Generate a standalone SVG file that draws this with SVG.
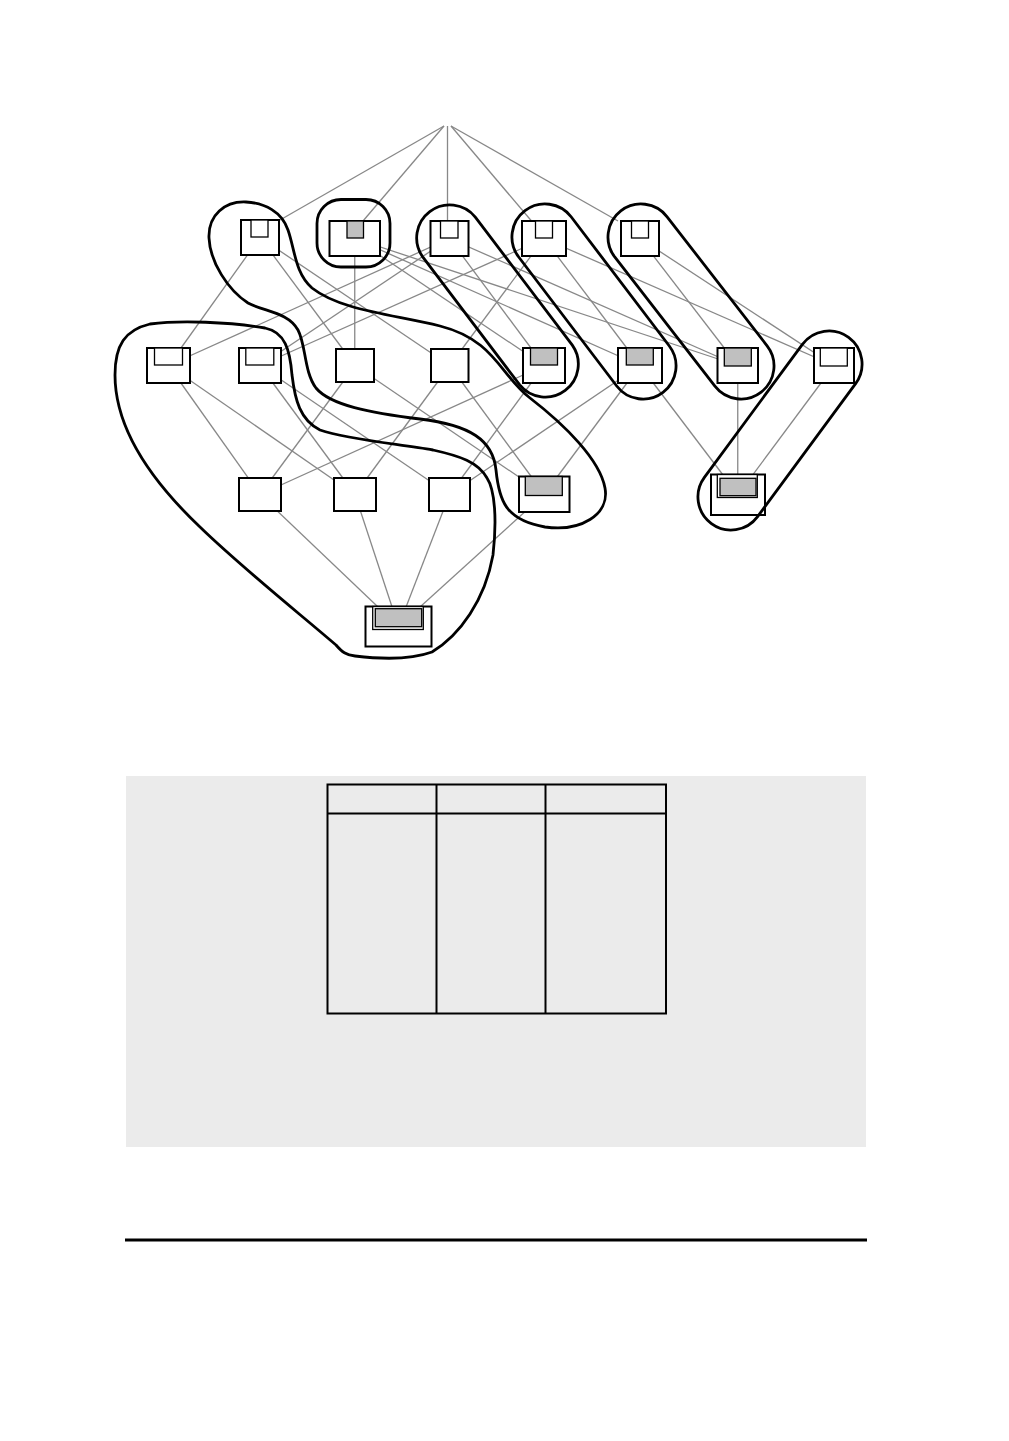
<svg xmlns="http://www.w3.org/2000/svg" width="1009" height="1441" viewBox="0 0 1009 1441">
<style>
.e{stroke:#888;stroke-width:1.3;fill:none}
.b{stroke:#000;stroke-width:2.8;fill:none}
.n{fill:#fff;stroke:#000;stroke-width:2}
.w{fill:#fff;stroke:#000;stroke-width:1.3}
.g{fill:#c0c0c0;stroke:#000;stroke-width:1.3}
.t{fill:none;stroke:#000;stroke-width:2}
</style>
<rect width="1009" height="1441" fill="#fff"/>
<g id="connectors">
<line class="e" x1="444" y1="126" x2="280" y2="220"/>
<line class="e" x1="444" y1="126" x2="363" y2="221"/>
<line class="e" x1="447.5" y1="126" x2="447.5" y2="221"/>
<line class="e" x1="451" y1="126" x2="531.5" y2="221"/>
<line class="e" x1="451" y1="126" x2="618" y2="221"/>
<line class="e" x1="260" y1="237.5" x2="168.5" y2="365.5"/>
<line class="e" x1="260" y1="237.5" x2="355" y2="365.5"/>
<line class="e" x1="260" y1="237.5" x2="449.75" y2="365.5"/>
<line class="e" x1="354.75" y1="238.5" x2="354.75" y2="365.5"/>
<line class="e" x1="354.75" y1="238.5" x2="544" y2="365.5"/>
<line class="e" x1="354.75" y1="238.5" x2="640" y2="365.5"/>
<line class="e" x1="354.75" y1="238.5" x2="737.75" y2="365.5"/>
<line class="e" x1="449.5" y1="238.5" x2="168.5" y2="365.5"/>
<line class="e" x1="449.5" y1="238.5" x2="260" y2="365.5"/>
<line class="e" x1="449.5" y1="238.5" x2="544" y2="365.5"/>
<line class="e" x1="449.5" y1="238.5" x2="737.75" y2="365.5"/>
<line class="e" x1="544" y1="238.5" x2="260" y2="365.5"/>
<line class="e" x1="544" y1="238.5" x2="449.75" y2="365.5"/>
<line class="e" x1="544" y1="238.5" x2="640" y2="365.5"/>
<line class="e" x1="544" y1="238.5" x2="834" y2="365.5"/>
<line class="e" x1="640" y1="238.5" x2="737.75" y2="365.5"/>
<line class="e" x1="640" y1="238.5" x2="834" y2="365.5"/>
<line class="e" x1="168.5" y1="365.5" x2="260" y2="494.5"/>
<line class="e" x1="168.5" y1="365.5" x2="355" y2="494.5"/>
<line class="e" x1="260" y1="365.5" x2="355" y2="494.5"/>
<line class="e" x1="260" y1="365.5" x2="449.5" y2="494.5"/>
<line class="e" x1="355" y1="365.5" x2="260" y2="494.5"/>
<line class="e" x1="355" y1="365.5" x2="544.25" y2="494.25"/>
<line class="e" x1="449.75" y1="365.5" x2="355" y2="494.5"/>
<line class="e" x1="449.75" y1="365.5" x2="544.25" y2="494.25"/>
<line class="e" x1="544" y1="365.5" x2="260" y2="494.5"/>
<line class="e" x1="544" y1="365.5" x2="449.5" y2="494.5"/>
<line class="e" x1="640" y1="365.5" x2="449.5" y2="494.5"/>
<line class="e" x1="640" y1="365.5" x2="544.25" y2="494.25"/>
<line class="e" x1="640" y1="365.5" x2="738" y2="494.75"/>
<line class="e" x1="737.75" y1="365.5" x2="737.75" y2="494.75"/>
<line class="e" x1="834" y1="365.5" x2="738" y2="494.75"/>
<line class="e" x1="260" y1="494.5" x2="398.5" y2="626.5"/>
<line class="e" x1="355" y1="494.5" x2="398.5" y2="626.5"/>
<line class="e" x1="449.5" y1="494.5" x2="398.5" y2="626.5"/>
<line class="e" x1="544.25" y1="494.25" x2="398.5" y2="626.5"/>
</g>
<g id="n1"><rect class="n" x="241" y="220" width="38" height="35"/><rect class="w" x="251" y="220" width="17" height="17"/></g>
<g id="n2"><rect class="n" x="329.5" y="221" width="50.5" height="35"/><rect class="g" x="347" y="221" width="16.5" height="17"/></g>
<g id="n3"><rect class="n" x="430.5" y="221" width="38" height="35"/><rect class="w" x="440.5" y="221" width="17.5" height="17"/></g>
<g id="n4"><rect class="n" x="522" y="221" width="44" height="35"/><rect class="w" x="535.5" y="221" width="17" height="17"/></g>
<g id="n5"><rect class="n" x="621" y="221" width="38" height="35"/><rect class="w" x="631.5" y="221" width="17" height="17"/></g>
<g id="nA"><rect class="n" x="147" y="348" width="43" height="35"/><rect class="w" x="154.5" y="348" width="28" height="17"/></g>
<g id="nB"><rect class="n" x="239" y="348" width="42" height="35"/><rect class="w" x="245.8" y="348" width="28" height="17"/></g>
<g id="nC"><rect class="n" x="336" y="349" width="38" height="33"/></g>
<g id="nD"><rect class="n" x="431" y="349" width="37.5" height="33"/></g>
<g id="nH"><rect class="n" x="523" y="348" width="42" height="35"/><rect class="g" x="530.5" y="348" width="27" height="17"/></g>
<g id="nI"><rect class="n" x="618" y="348" width="44" height="35"/><rect class="g" x="626.3" y="348" width="27" height="17"/></g>
<g id="nJ"><rect class="n" x="717.5" y="348" width="40.5" height="35"/><rect class="g" x="724.3" y="348" width="27" height="18"/></g>
<g id="nK"><rect class="n" x="814" y="348" width="40" height="35"/><rect class="w" x="820.3" y="348" width="27" height="18"/></g>
<g id="nE"><rect class="n" x="239" y="478" width="42" height="33"/></g>
<g id="nF"><rect class="n" x="334" y="478" width="42" height="33"/></g>
<g id="nG"><rect class="n" x="429" y="478" width="41" height="33"/></g>
<g id="nL"><rect class="n" x="519" y="476.5" width="50.5" height="35.5"/><rect class="g" x="525.3" y="476.5" width="37" height="19"/></g>
<g id="nM"><rect class="n" x="711" y="474.5" width="54" height="40.5"/><rect class="w" x="717.3" y="474.5" width="40" height="23"/><rect class="g" x="720" y="478.3" width="36" height="17.4"/></g>
<g id="nN"><rect class="n" x="365.5" y="606.5" width="66" height="40"/><rect class="w" x="372.7" y="606.5" width="50.6" height="23"/><rect class="g" x="375.3" y="608.7" width="46.4" height="18"/></g>
<g id="bubbles">
<path class="b" d="M246,202 C225,201 208,215 209,238 C210,262 228,290 248,303 C265,312 288,312 298,330 C306,345 304,372 316,388 C330,405 370,413 420,419 C470,425 493,440 496,470 C499,500 505,520 545,527 C580,532 610,515 605,488 C600,460 565,425 530,398 C500,375 495,340 440,326 C390,314 340,310 312,288 C295,273 295,250 288,230 C282,212 265,203 246,202 Z"/>
<rect class="b" x="317" y="199.5" width="73" height="67.5" rx="24"/>
<path class="b" d="M475.3,217.1 L572.3,345.1 A33,33 0 0 1 519.7,384.9 L422.7,256.9 A33,33 0 0 1 475.3,217.1 Z"/>
<path class="b" d="M571.3,217 L669.3,346 A33,33 0 0 1 616.7,386 L518.7,257 A33,33 0 0 1 571.3,217 Z"/>
<path class="b" d="M667.1,216.8 L767.1,345.8 A33,33 0 0 1 714.9,386.2 L614.9,257.2 A33,33 0 0 1 667.1,216.8 Z"/>
<path class="b" d="M855.6,383.6 L757.6,516.6 A33,33 0 0 1 704.4,477.4 L802.4,344.4 A33,33 0 0 1 855.6,383.6 Z"/>
<path class="b" d="M150,324 C125,330 115,345 115,375 C115,420 140,470 200,527 C240,566 300,614 336,645 C342,652 346,655 355,656 C380,659 410,660 432,652 C460,635 485,600 493,555 C497,520 495,490 487,478 C478,462 460,456 433,450 C400,444 350,440 320,430 C300,420 295,400 292,375 C290,350 285,332 265,328 C230,322 180,320 150,324 Z"/>
</g>
<g id="panel">
<rect x="126" y="776" width="740" height="371" fill="#ebebeb"/>
<rect class="t" x="327.5" y="784.5" width="338.5" height="229"/>
<line class="t" x1="327.5" y1="813.5" x2="666" y2="813.5"/>
<line class="t" x1="436.5" y1="784.5" x2="436.5" y2="1013.5"/>
<line class="t" x1="545.5" y1="784.5" x2="545.5" y2="1013.5"/>
</g>
<line x1="125" y1="1240" x2="867" y2="1240" stroke="#000" stroke-width="3"/>
</svg>
